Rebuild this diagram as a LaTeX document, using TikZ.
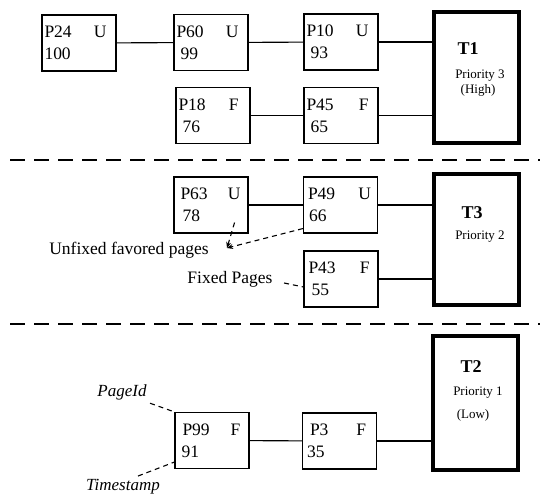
\documentclass[tikz,border=0pt]{standalone}
\usepackage{fontspec}
\setmainfont{Liberation Serif}
\usetikzlibrary{arrows.meta}
\usetikzlibrary{calc}

\begin{document}
\begin{tikzpicture}[x=1pt,y=-1pt,>/.tip={Stealth[length=6pt,width=5pt]},
	pagebox/.style={draw,line width=1.1pt,minimum width=74pt,minimum height=56pt,
		text width=69pt,inner xsep=2pt,align=left,font=\fontsize{17.5}{22}\selectfont},
	taskbox/.style={draw,line width=3.6pt,minimum width=85pt,minimum height=131pt},
	tasktitle/.style={font=\fontsize{18}{18}\selectfont\bfseries},
	prio/.style={font=\fontsize{13}{15}\selectfont},
	remark/.style={font=\fontsize{17.5}{20}\selectfont},
	link/.style={line width=1.1pt},
	hint/.style={line width=1.1pt,dash pattern=on 5pt off 4pt},
	divider/.style={line width=1.5pt,dash pattern=on 15pt off 9pt}]
	\useasboundingbox (0,0) rectangle (544,497);
	% T1
	\draw (79,43) node(P24) [pagebox] {P24\hspace{\stretch{1}}U\kern7pt\\100};
	\draw (211,42.5) node(P60) [pagebox] {P60\hspace{\stretch{1}}U\kern7pt\\\hspace*{4pt}99};
	\draw (341,42) node(P10) [pagebox] {P10\hspace{\stretch{1}}U\kern7pt\\\hspace*{4pt}93};
	\draw (213,115.5) node(P18) [pagebox] {P18\hspace{\stretch{1}}F\kern9pt\\\hspace*{4pt}76};
	\draw (341,115.5) node(P45) [pagebox] {P45\hspace{\stretch{1}}F\kern7pt\\\hspace*{4pt}65};
	\draw (476.5,77.5) node(T1) [taskbox] {};
	\node[tasktitle] (T1name) at (468,49) {T1};
	\node[prio] (T1prio) at (480,76) {Priority 3};
	\node[prio] (T1level) at (478,90) {(High)};
	\draw[link] (P24) -- (P60);
	\draw[link] (P60) -- (P10);
	\draw[link] (P10.east) -- (P10.east -| T1.west);
	\draw[link] (P18) -- (P45);
	\draw[link] (P45.east) -- (P45.east -| T1.west);
	\coordinate (cutA1) at (10,160);
	\coordinate (cutA2) at (540,160);
	\draw[divider] (cutA1) -- (cutA2);
	% T3
	\draw (211,205) node(P63) [pagebox] {\kern4pt P63\hspace{\stretch{1}}U\kern5pt\\\hspace*{6pt}78};
	\draw (340.5,205) node(P49) [pagebox] {\kern2pt P49\hspace{\stretch{1}}U\kern4pt\\\hspace*{3pt}66};
	\draw (341,279) node(P43) [pagebox] {\kern2pt P43\hspace{\stretch{1}}F\kern6pt\\\hspace*{5pt}55};
	\draw (476.5,239.5) node(T3) [taskbox] {};
	\node[tasktitle] (T3name) at (472,213) {T3};
	\node[prio] (T3prio) at (480,237) {Priority 2};
	\draw[link] (P63) -- (P49);
	\draw[link] (P49.east) -- (P49.east -| T3.west);
	\draw[link] (P43.east) -- (P43.east -| T3.west);
	\node[remark] (unfixed) at (129,250) {Unfixed favored pages};
	\node[remark] (fixed) at (230,279) {Fixed Pages};
	\coordinate (unfixtip) at (227,248);
	\draw[hint,->] ($(P63.south east)+(-14,-11)$) -- (unfixtip);
	\draw[hint,->] ($(P49.south west)+(0,-5)$) -- (unfixtip);
	\draw[hint] ($(fixed.east)+(8,4)$) -- ($(P43.west)+(0,8)$);
	\coordinate (cutB1) at (10,324);
	\coordinate (cutB2) at (540,324);
	\draw[divider] (cutB1) -- (cutB2);
	% T2
	\draw (212,440.5) node(P99) [pagebox] {\kern5pt P99\hspace{\stretch{1}}F\kern6pt\\\hspace*{4pt}91};
	\draw (339.5,441) node(P3) [pagebox] {\kern5pt P3\hspace{\stretch{1}}F\kern8pt\\\hspace*{2pt}35};
	\draw (475.5,403) node(T2) [taskbox,minimum height=134pt] {};
	\node[tasktitle] (T2name) at (471,367) {T2};
	\node[prio] (T2prio) at (478,393) {Priority 1};
	\node[prio] (T2level) at (473,415) {(Low)};
	\draw[link] (P99) -- (P3);
	\draw[link] (P3.east) -- (P3.east -| T2.west);
	\node[remark,font=\fontsize{17}{20}\selectfont\itshape] (pageid) at (122,392) {PageId};
	\node[remark,font=\fontsize{17}{20}\selectfont\itshape] (stamp) at (123,487) {Timestamp};
	\draw[hint] (pageid.south east) -- (P99.north west);
	\draw[hint] ($(stamp.north)+(15,0)$) -- ($(P99.south west)+(0,-7)$);
\end{tikzpicture}
\end{document}
